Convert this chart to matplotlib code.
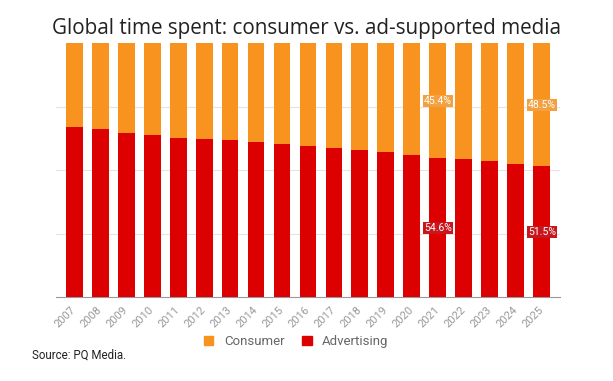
import matplotlib
matplotlib.use('Agg')
import matplotlib.pyplot as plt
import numpy as np
from matplotlib.patches import Patch

years = ['2007', '2008', '2009', '2010', '2011', '2012', '2013', '2014', '2015', '2016',
         '2017', '2018', '2019', '2020', '2021', '2022', '2023', '2024', '2025']
advertising = [66.9, 66.1, 64.6, 63.8, 62.6, 62.2, 61.8, 61.0, 60.2, 59.4,
               58.7, 57.9, 57.1, 55.9, 54.6, 54.3, 53.5, 52.4, 51.5]
consumer = [round(100 - a, 1) for a in advertising]
labelled = ['2021', '2025']

orange = '#F7931E'
red = '#DD0000'

plt.rcParams['font.family'] = ['Roboto', 'DejaVu Sans']

fig = plt.figure(figsize=(6.13, 3.81), dpi=100)
ax = fig.add_axes([0.0914, 0.2205, 0.822, 0.6665])

x = np.arange(len(years))
ax.bar(x, advertising, width=0.65, color=red, zorder=3)
ax.bar(x, consumer, width=0.65, bottom=advertising, color=orange, zorder=3)

for i, yr in enumerate(years):
    if yr in labelled:
        ax.text(x[i], advertising[i] + consumer[i] / 2, '%.1f%%' % consumer[i],
                ha='center', va='center', color='white', fontsize=7.5, zorder=5,
                bbox=dict(boxstyle='square,pad=0.1', fc='#F2A040', ec='none'))
        ax.text(x[i], advertising[i] / 2, '%.1f%%' % advertising[i],
                ha='center', va='center', color='white', fontsize=7.5, zorder=5,
                bbox=dict(boxstyle='square,pad=0.1', fc='#C8161E', ec='none'))

ax.set_xlim(-0.7, len(years) - 0.3)
ax.set_ylim(0, 100)
ax.set_yticks([25, 50, 75])
ax.yaxis.grid(True, color='#e4e4e4', lw=0.8, zorder=0)
ax.tick_params(axis='y', length=0, labelleft=False)
ax.set_xticks(x)
ax.set_xticklabels(years, rotation=45, ha='right', va='center', rotation_mode='anchor',
                   fontsize=8, color='#999999')
ax.tick_params(axis='x', length=0, pad=8)
for s in ['top', 'right', 'left']:
    ax.spines[s].set_visible(False)
ax.spines['bottom'].set_color('#999999')

fig.text(0.5, 0.925, 'Global time spent: consumer vs. ad-supported media',
         ha='center', va='center', fontsize=14.9, color='#222222', family='Open Sans')

handles = [Patch(color=orange, label='Consumer'), Patch(color=red, label='Advertising')]
fig.legend(handles=handles, loc='center', bbox_to_anchor=(0.483, 0.103), ncol=2,
           frameon=False, fontsize=9.5, handlelength=0.75, handleheight=0.75,
           handletextpad=0.8, columnspacing=1.3, labelcolor='#666666')

fig.text(0.053, 0.068, 'Source: PQ Media.', ha='left', va='center', fontsize=8.3,
         color='#222222')

fig.savefig('out.png', dpi=100)
